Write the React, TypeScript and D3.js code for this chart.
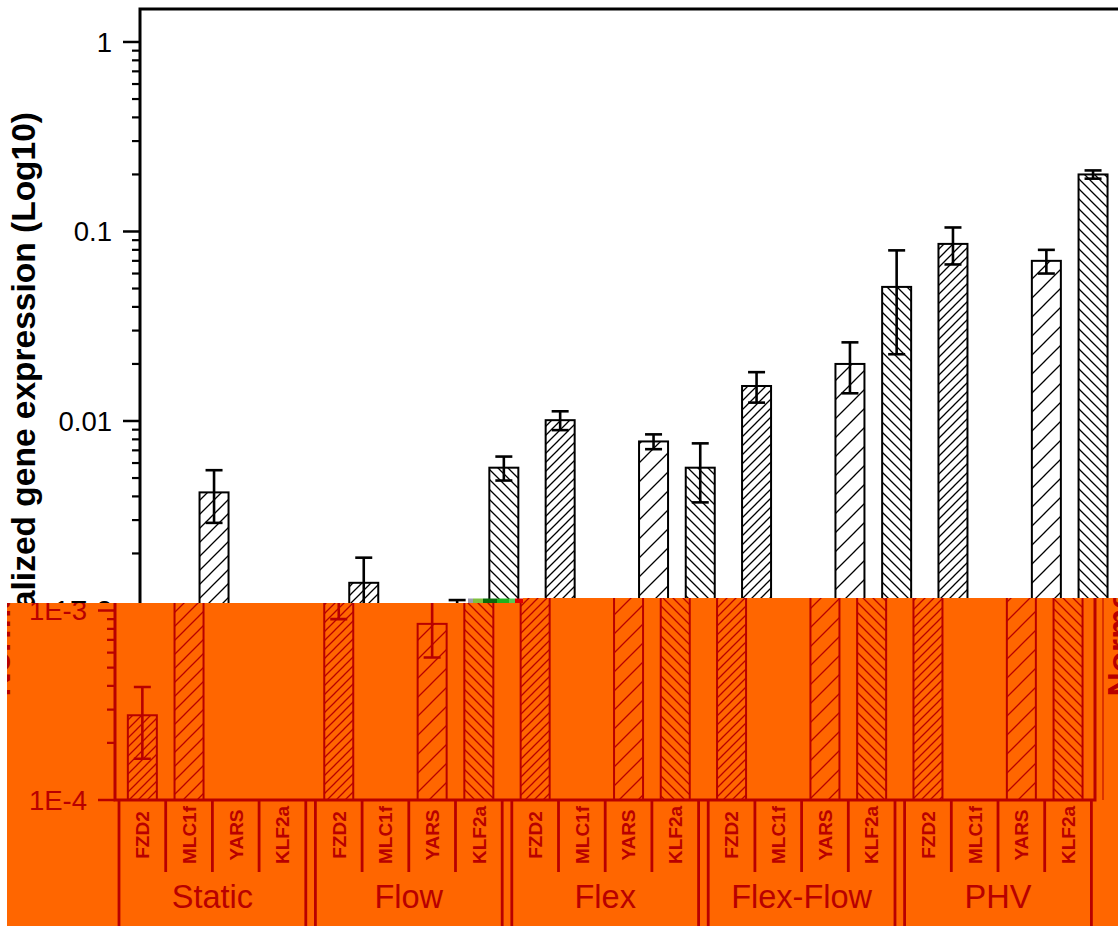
import React from 'react';
import * as d3 from 'd3';

// ---------- data ----------
const groups = ['Static', 'Flow', 'Flex', 'Flex-Flow', 'PHV'];
const genes = ['FZD2', 'MLC1f', 'YARS', 'KLF2a'];

// mean values per gene across groups (null = no bar)
const fzd2Values = [2.8e-4, 1.4e-3, 1.01e-2, 1.53e-2, 8.6e-2];
const fzd2Errors = [1.15e-4, 5.0e-4, 1.15e-3, 2.8e-3, 1.9e-2];
const mlc1fValues = [4.2e-3, null, null, null, null];
const mlc1fErrors = [1.3e-3, null, null, null, null];
const yarsValues = [null, 8.5e-4, 7.8e-3, 2.0e-2, 7.0e-2];
const yarsErrors = [null, 2.85e-4, 7.0e-4, 6.0e-3, 1.0e-2];
const klf2aValues = [null, 5.67e-3, 5.67e-3, 5.1e-2, 0.2];
const klf2aErrors = [null, 8.2e-4, 1.95e-3, 2.85e-2, 1.0e-2];

const majorTicks = [1e-4, 1e-3, 1e-2, 0.1, 1];
const majorTickLabels = ['1E-4', '1E-3', '0.01', '0.1', '1'];
const yLabel = 'Normalized gene expression (Log10)';

const valuesByGene: Record<string, (number | null)[]> = {
  FZD2: fzd2Values, MLC1f: mlc1fValues, YARS: yarsValues, KLF2a: klf2aValues,
};
const errorsByGene: Record<string, (number | null)[]> = {
  FZD2: fzd2Errors, MLC1f: mlc1fErrors, YARS: yarsErrors, KLF2a: klf2aErrors,
};

// hatch style per gene
const hatch: Record<string, { dir: string; s: number }> = {
  FZD2: { dir: '/', s: 9 },
  MLC1f: { dir: '/', s: 14 },
  YARS: { dir: '/', s: 19 },
  KLF2a: { dir: '\\', s: 10 },
};

// ---------- layout ----------
const W = 1118, H = 926;
const plotL = 140, plotT = 9, plotR = 1120, plotB = 800;
const FONT = '"Liberation Sans", Arial, sans-serif';
const ORANGE = '#FF6600';
const DARK = '#B80000';

const y = d3.scaleLog().domain([1e-4, 1.493]).range([plotB, plotT]);
const x0 = d3.scaleBand<string>().domain(groups).range([144, 1116.4]).paddingInner(0.049).paddingOuter(0);
const x1 = d3.scaleBand<string>().domain(genes).range([0, x0.bandwidth()]);
const barW = 29;

const minorTicks: number[] = [];
for (let k = -4; k <= -1; k++) for (let m = 2; m <= 9; m++) minorTicks.push(m * Math.pow(10, k));

function Patterns({ prefix, color, bg }: { prefix: string; color: string; bg: string | null }) {
  return (
    <>
      {genes.map((g) => {
        const { dir, s } = hatch[g];
        const d = dir === '/'
          ? `M0,${s} L${s},0 M${-s / 2},${s / 2} L${s / 2},${-s / 2} M${s / 2},${s * 1.5} L${s * 1.5},${s / 2}`
          : `M0,0 L${s},${s} M${-s / 2},${s / 2} L${s / 2},${s * 1.5} M${s / 2},${-s / 2} L${s * 1.5},${s / 2}`;
        return (
          <pattern key={g} id={`${prefix}-${g}`} patternUnits="userSpaceOnUse" width={s} height={s}>
            {bg && <rect width={s} height={s} fill={bg} />}
            <path d={d} stroke={color} strokeWidth={1.3} fill="none" />
          </pattern>
        );
      })}
    </>
  );
}

function YLabel({ color, x }: { color: string; x: number }) {
  return (
    <text transform={`translate(${x},112) rotate(-90)`} textAnchor="end" fontFamily={FONT}
      fontWeight="bold" fontSize={33.5} fill={color}>{yLabel}</text>
  );
}

function ChartBody({ color, prefix, full }: { color: string; prefix: string; full: boolean }) {
  const bw = x0.bandwidth();
  return (
    <g>
      {/* bars */}
      {groups.map((grp, gi) =>
        genes.map((gene) => {
          const v = valuesByGene[gene][gi];
          if (v == null) return null;
          const e = errorsByGene[gene][gi] || 0;
          const cx = (x0(grp) as number) + (x1(gene) as number) + x1.bandwidth() / 2;
          const yt = y(v);
          const ye1 = y(v + e);
          const ye2 = y(Math.max(v - e, 1e-6));
          return (
            <g key={grp + gene}>
              <rect x={cx - barW / 2} y={yt} width={barW} height={plotB - yt}
                fill={`url(#${prefix}-${gene})`} stroke={color} strokeWidth={2} />
              <line x1={cx} x2={cx} y1={ye1} y2={ye2} stroke={color} strokeWidth={2.6} />
              <line x1={cx - 8.5} x2={cx + 8.5} y1={ye1} y2={ye1} stroke={color} strokeWidth={2.6} />
              <line x1={cx - 8.5} x2={cx + 8.5} y1={ye2} y2={ye2} stroke={color} strokeWidth={2.6} />
            </g>
          );
        })
      )}
      {/* frame */}
      <rect x={plotL} y={plotT} width={plotR - plotL} height={plotB - plotT} fill="none" stroke={color} strokeWidth={3} />
      <line x1={1128} x2={1128} y1={plotT} y2={plotB} stroke={color} strokeWidth={1} />
      {/* ticks */}
      {majorTicks.map((t, i) => (
        <g key={'M' + t}>
          <line x1={plotL - 17} x2={plotL} y1={y(t)} y2={y(t)} stroke={color} strokeWidth={2.5} />
          {((!full && y(t) < 640) || (full && y(t) > 590)) && (
            <text x={112} y={y(t)} dy="0.36em" textAnchor="end" fontFamily={FONT} fontSize={27.5} fill={color}>
              {majorTickLabels[i]}
            </text>
          )}
        </g>
      ))}
      {minorTicks.map((t) => (
        <line key={'m' + t} x1={plotL - 8} x2={plotL} y1={y(t)} y2={y(t)} stroke={color} strokeWidth={2.2} />
      ))}
      {/* category axis (only in the lower, visible part) */}
      {full && groups.map((grp) => {
        const gx = x0(grp) as number;
        return (
          <g key={'cat' + grp}>
            <line x1={gx} x2={gx} y1={plotB} y2={H} stroke={color} strokeWidth={2.8} />
            <line x1={gx + bw} x2={gx + bw} y1={plotB} y2={H} stroke={color} strokeWidth={2.8} />
            {genes.slice(1).map((gene) => (
              <line key={gene} x1={gx + (x1(gene) as number)} x2={gx + (x1(gene) as number)} y1={plotB} y2={872}
                stroke={color} strokeWidth={2.8} />
            ))}
            {genes.map((gene) => {
              const cx = gx + (x1(gene) as number) + x1.bandwidth() / 2;
              return (
                <text key={'t' + gene} transform={`translate(${cx},835) rotate(-90)`} dy="0.36em" textAnchor="middle"
                  fontFamily={FONT} fontWeight="bold" fontSize={19} fill={color}>{gene}</text>
              );
            })}
            <text x={gx + bw / 2} y={908} textAnchor="middle" fontFamily={FONT} fontSize={32.5} fill={color}>{grp}</text>
          </g>
        );
      })}
      <YLabel color={color} x={35} />
    </g>
  );
}

export default function App() {
  const orangePts = '7,603 523,603 523,598 1118,598 1118,926 7,926';
  return (
    <svg width={W} height={H} style={{ position: 'absolute', left: 0, top: 0 }} xmlns="http://www.w3.org/2000/svg">
      <defs>
        <Patterns prefix="pt" color="#000" bg="#fff" />
        <Patterns prefix="pb" color={DARK} bg={null} />
        <clipPath id="orangeClip"><polygon points={orangePts} /></clipPath>
      </defs>
      <rect width={W} height={H} fill="#fff" />
      {/* upper, intact part */}
      <ChartBody color="#000" prefix="pt" full={false} />
      {/* lower, shifted and recoloured part */}
      <polygon points={orangePts} fill={ORANGE} />
      <g clipPath="url(#orangeClip)">
        <g transform="translate(-25,0)">
          <ChartBody color={DARK} prefix="pb" full={true} />
        </g>
        <g transform="translate(1096,0)">
          <YLabel color={DARK} x={35} />
        </g>
      </g>
      {/* glitch strip */}
      <rect x={468} y={598.5} width={5} height={4.5} fill="#9a9ab0" />
      <rect x={473} y={598.5} width={10} height={4.5} fill="#7fbf3f" />
      <rect x={483} y={598.5} width={14} height={4.5} fill="#0a6a0a" />
      <rect x={497} y={598.5} width={12} height={4.5} fill="#1fb21f" />
      <rect x={509} y={598.5} width={6} height={4.5} fill="#55cc55" />
      <rect x={515} y={598.5} width={8} height={4.5} fill="#e00000" />
    </svg>
  );
}
